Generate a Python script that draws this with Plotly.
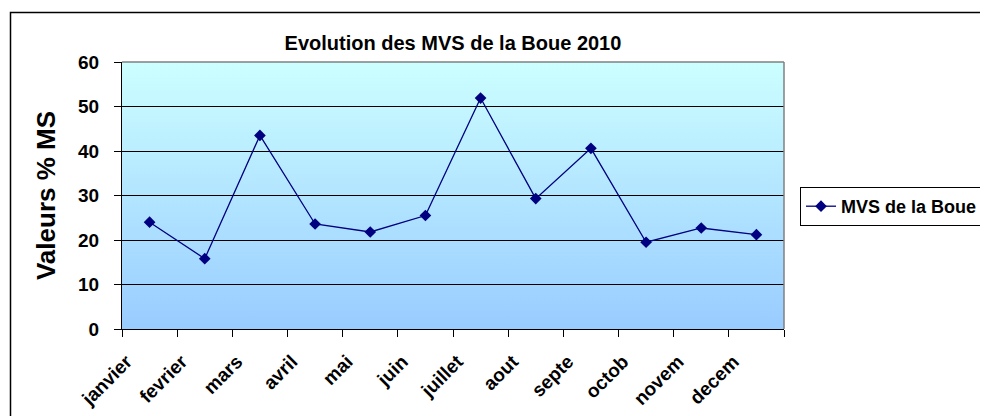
import base64
import plotly.graph_objects as go

# ---- data ----
months = ["janvier", "fevrier", "mars", "avril", "mai", "juin",
          "juillet", "aout", "septe", "octob", "novem", "decem"]
mvs_boue = [24.0, 15.8, 43.5, 23.6, 21.8, 25.5, 51.9, 29.3, 40.6, 19.5, 22.7, 21.2]
y_ticks = [0, 10, 20, 30, 40, 50, 60]
series_name = "MVS de la Boue"
chart_title = "Evolution des MVS de la Boue 2010"
y_title = "Valeurs % MS"

# ---- geometry (pixels in the window; page body has an 8px margin) ----
W, H = 988, 416
OX, OY = 8, 8
FW, FH = W - OX, H - OY
L, R, T, B = 122 - OX, 784 - OX, 62 - OY, 329 - OY
PW, PH = R - L, B - T


def px_x(px):
    return (px - OX - L) / PW


def px_y(py):
    return (B - (py - OY)) / PH


FONT = "Arial, Liberation Sans, sans-serif"
NAVY = "#000080"

svg = ('<svg xmlns="http://www.w3.org/2000/svg" width="100" height="100" '
       'preserveAspectRatio="none"><defs><linearGradient id="g" x1="0" y1="0" '
       'x2="0" y2="1"><stop offset="0" stop-color="#CCFFFF"/>'
       '<stop offset="1" stop-color="#99CCFF"/></linearGradient></defs>'
       '<rect width="100" height="100" fill="url(#g)"/></svg>')
bg_src = "data:image/svg+xml;base64," + base64.b64encode(svg.encode()).decode()

fig = go.Figure()
fig.add_trace(go.Scatter(
    x=months, y=mvs_boue, mode="lines+markers", name=series_name,
    line=dict(color=NAVY, width=1.3),
    marker=dict(symbol="diamond", size=9, color=NAVY),
    showlegend=True,
))

fig.update_layout(
    width=FW, height=FH,
    margin=dict(l=L, r=FW - R, t=T, b=FH - B, autoexpand=False),
    paper_bgcolor="white",
    plot_bgcolor="rgba(0,0,0,0)",
    font=dict(family=FONT, color="black"),
    title=dict(text=chart_title, x=0.5, xref="paper", xanchor="center",
               y=1 - (43 - OY) / FH, yref="container", yanchor="middle",
               font=dict(size=20, weight="bold", family=FONT)),
    images=[dict(source=bg_src, xref="paper", yref="paper", x=0, y=1,
                 sizex=1, sizey=1, xanchor="left", yanchor="top",
                 sizing="stretch", layer="below")],
    legend=dict(x=px_x(800), y=px_y(206.5), xanchor="left", yanchor="middle",
                bordercolor="black", borderwidth=1, bgcolor="white",
                font=dict(size=18, weight="bold", family=FONT),
                itemwidth=30, tracegroupgap=0),
    showlegend=True,
)

fig.update_xaxes(
    type="category", range=[-0.5, len(months) - 0.5],
    tickson="boundaries", ticks="outside", ticklen=7, tickcolor="black",
    showline=True, linecolor="black", linewidth=1,
    showgrid=False, zeroline=False,
    tickangle=-45, tickfont=dict(size=19, weight="bold", family=FONT),
    ticklabelshift=-23, ticklabelstandoff=13,
)
fig.update_yaxes(
    range=[0, 60], tickvals=y_ticks, ticks="outside", ticklen=7,
    tickcolor="black", showline=True, linecolor="black", linewidth=1,
    showgrid=True, gridcolor="black", gridwidth=1, zeroline=False,
    tickfont=dict(size=19, weight="bold", family=FONT),
    ticklabelstandoff=11,
    title=dict(text=y_title, font=dict(size=26, weight="bold", family=FONT),
               standoff=14),
)

# plot area top/right border (gray) and outer chart frame
fig.add_shape(type="line", xref="paper", yref="paper", x0=0, x1=1, y0=1, y1=1,
              line=dict(color="#808080", width=1.5))
fig.add_shape(type="line", xref="paper", yref="paper", x0=1, x1=1, y0=0, y1=1,
              line=dict(color="#808080", width=1.5))
fig.add_shape(type="rect", xref="paper", yref="paper",
              x0=px_x(10.5), x1=px_x(W + 20), y0=px_y(H + 20), y1=px_y(12.5),
              line=dict(color="black", width=1.5), fillcolor="rgba(0,0,0,0)",
              layer="below")

fig.write_html("out.html")
